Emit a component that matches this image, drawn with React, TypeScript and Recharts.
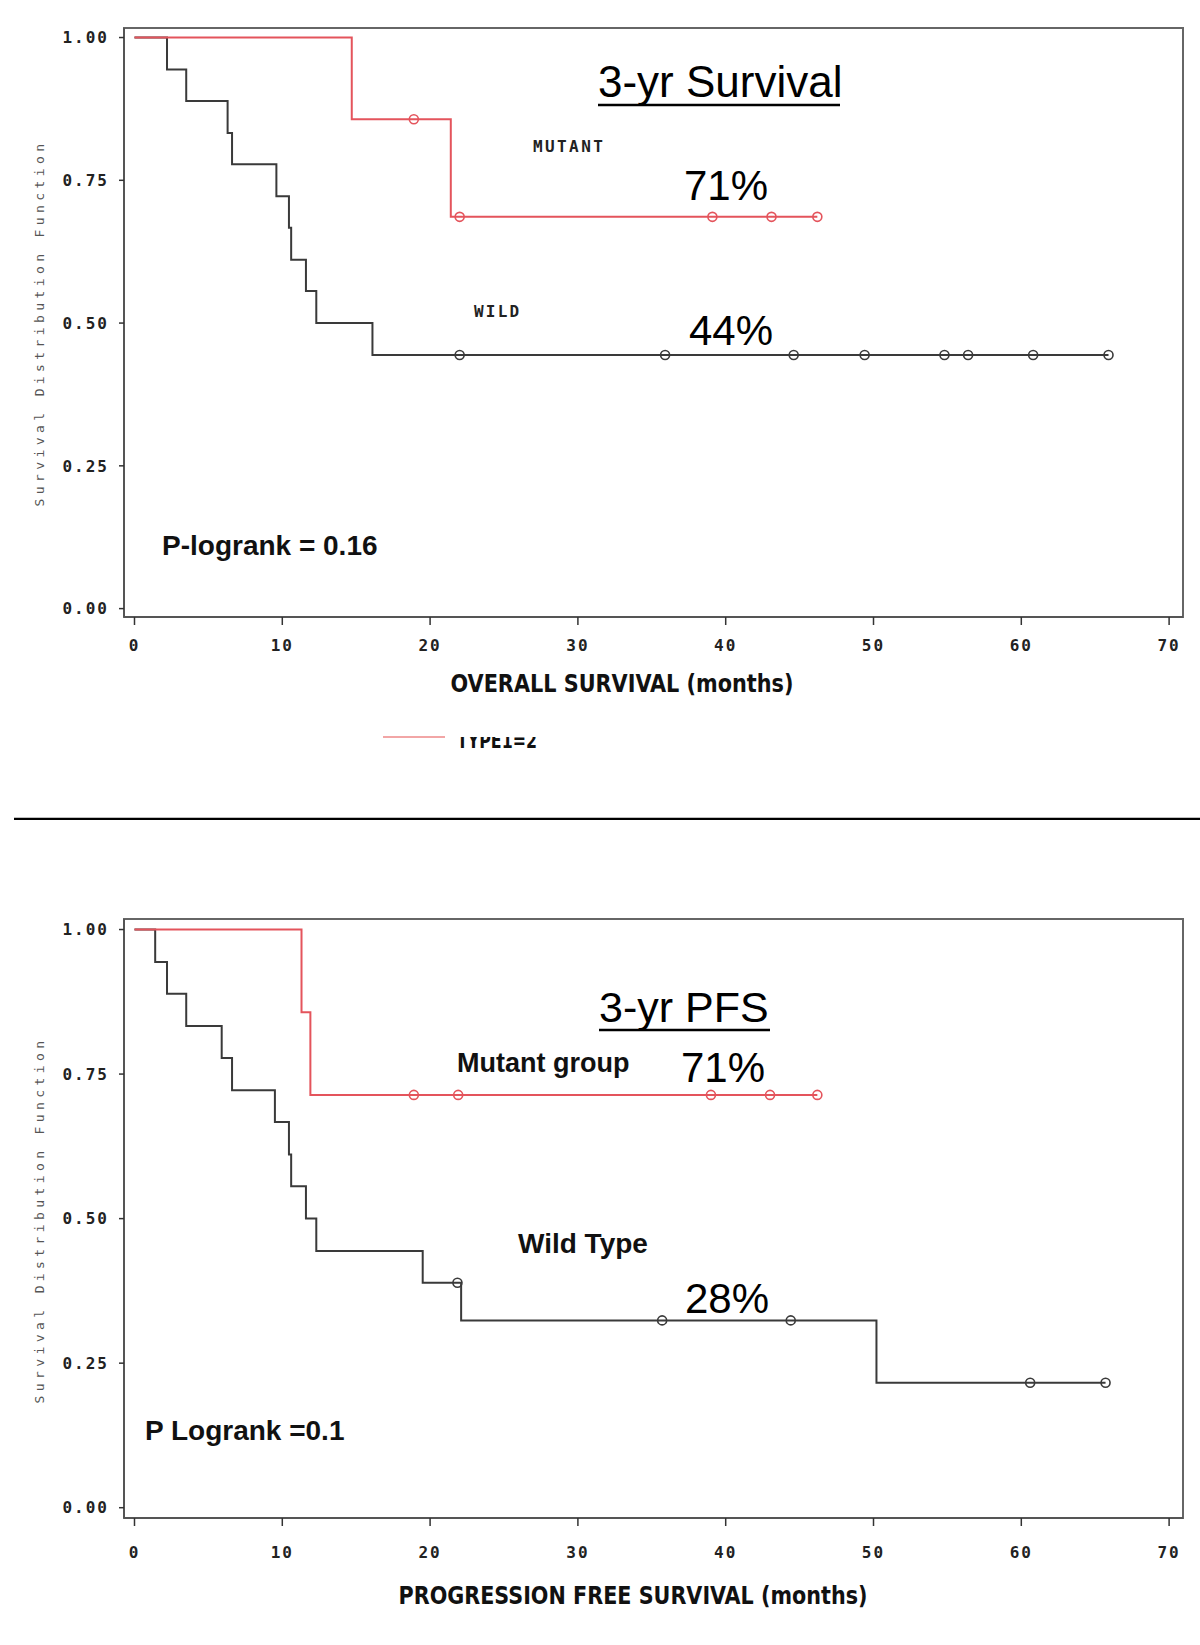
import React from 'react';
import { ComposedChart, Line, Scatter, XAxis, YAxis } from 'recharts';

// overall survival (months) - Kaplan-Meier steps
const osMutantTime = [0, 14.7, 21.4, 46.2];
const osMutantSurv = [1, 0.857, 0.686, 0.686];
const osMutantCensor = [18.9, 22.0, 39.1, 43.1, 46.2];

const osWildTime = [0, 2.2, 3.5, 6.3, 6.6, 9.6, 10.45, 10.6, 11.6, 12.3, 16.1, 65.9];
const osWildSurv = [1, 0.944, 0.889, 0.833, 0.778, 0.722, 0.667, 0.611, 0.556, 0.5, 0.444, 0.444];
const osWildCensor = [22.0, 35.9, 44.6, 49.4, 54.8, 56.4, 60.8, 65.9];

// progression free survival (months)
const pfsMutantTime = [0, 11.3, 11.9, 46.2];
const pfsMutantSurv = [1, 0.857, 0.714, 0.714];
const pfsMutantCensor = [18.9, 21.9, 39.0, 43.0, 46.2];

const pfsWildTime = [0, 1.4, 2.2, 3.5, 5.9, 6.6, 9.5, 10.45, 10.6, 11.6, 12.3, 19.5, 22.1, 50.2, 65.7];
const pfsWildSurv = [1, 0.944, 0.889, 0.833, 0.778, 0.722, 0.667, 0.611, 0.556, 0.5, 0.444, 0.389, 0.324, 0.216, 0.216];
const pfsWildCensor = [21.85, 35.7, 44.4, 60.6, 65.7];

const monthTicks = [0, 10, 20, 30, 40, 50, 60, 70];
const survTicks = [0, 0.25, 0.5, 0.75, 1];

const RED = '#e4545c';
const BLACK = '#3a3a3a';

const steps = (times: number[], surv: number[]) => times.map((t, i) => ({ t, s: surv[i] }));

const survAt = (times: number[], surv: number[], t: number) => {
  let s = surv[0];
  times.forEach((tt, i) => {
    if (tt <= t) s = surv[i];
  });
  return s;
};

const censored = (times: number[], surv: number[], cens: number[]) =>
  cens.map(t => ({ t, s: survAt(times, surv, t) }));

const tickFont = {
  fontFamily: '"DejaVu Sans Mono", monospace',
  fontWeight: 700,
  fontSize: 16,
  fill: '#222',
  letterSpacing: 2,
};

const openCircle = (color: string) => (p: any) => (
  <circle cx={p.cx} cy={p.cy} r={4.5} fill="none" stroke={color} strokeWidth={1.6} />
);

interface KMProps {
  height: number;
  top: number;
  yDomain: [number, number];
  bottomMargin: number;
  tickGap: number;
  mutant: { t: number; s: number }[];
  wild: { t: number; s: number }[];
  mutantCens: { t: number; s: number }[];
  wildCens: { t: number; s: number }[];
  children?: React.ReactNode;
}

const KMPlot: React.FC<KMProps> = ({ height, top, yDomain, bottomMargin, tickGap, mutant, wild, mutantCens, wildCens, children }) => (
  <ComposedChart
    width={1200}
    height={height}
    margin={{ top, right: 17, left: 24, bottom: bottomMargin }}
    style={{ overflow: 'visible' }}
  >
    <XAxis
      type="number"
      dataKey="t"
      domain={[-0.71, 70.94]}
      allowDataOverflow
      ticks={monthTicks}
      height={30}
      tickSize={8}
      tickMargin={tickGap}
      tick={tickFont}
      tickLine={{ stroke: '#333', strokeWidth: 1.5 }}
      axisLine={{ stroke: '#555', strokeWidth: 2 }}
    />
    <YAxis
      type="number"
      domain={yDomain}
      allowDataOverflow
      ticks={survTicks}
      width={100}
      tickSize={5}
      tickMargin={10}
      tick={tickFont}
      tickFormatter={(v: number) => v.toFixed(2)}
      tickLine={{ stroke: '#333', strokeWidth: 1.5 }}
      axisLine={{ stroke: '#555', strokeWidth: 2 }}
    />
    <Line data={wild} dataKey="s" type="stepAfter" stroke={BLACK} strokeWidth={2} dot={false} isAnimationActive={false} />
    <Line data={mutant} dataKey="s" type="stepAfter" stroke={RED} strokeWidth={2} dot={false} isAnimationActive={false} />
    <Scatter data={wildCens} dataKey="s" shape={openCircle(BLACK)} isAnimationActive={false} />
    <Scatter data={mutantCens} dataKey="s" shape={openCircle(RED)} isAnimationActive={false} />
    {children}
  </ComposedChart>
);

const arial = '"Liberation Sans", Arial, sans-serif';
const mono = '"DejaVu Sans Mono", monospace';
const narrow = '"Liberation Sans Narrow", "DejaVu Sans Condensed", Arial, sans-serif';

const YTitle: React.FC<{ cy: number }> = ({ cy }) => (
  <text
    x={40}
    y={cy}
    transform={`rotate(-90 40 ${cy})`}
    textAnchor="middle"
    dominantBaseline="middle"
    fontFamily={mono}
    fontSize={13}
    letterSpacing={4.4}
    fill="#555"
  >
    Survival Distribution Function
  </text>
);

export default function App() {
  return (
    <div style={{ position: 'absolute', left: 0, top: 0, width: 1200, height: 1645, background: '#fff' }}>
      <div style={{ position: 'absolute', left: 0, top: 0 }}>
        <KMPlot
          height={820}
          top={28}
          yDomain={[-0.0147, 1.0167]}
          bottomMargin={173}
          tickGap={15}
          mutant={steps(osMutantTime, osMutantSurv)}
          wild={steps(osWildTime, osWildSurv)}
          mutantCens={censored(osMutantTime, osMutantSurv, osMutantCensor)}
          wildCens={censored(osWildTime, osWildSurv, osWildCensor)}
        >
          <rect x={124} y={28} width={1059} height={589} fill="none" stroke="#666" strokeWidth={2} />
          <text x={598} y={97} fontFamily={arial} fontSize={44} fill="#000">3-yr Survival</text>
          <line x1={598} x2={840} y1={105} y2={105} stroke="#000" strokeWidth={2.5} />
          <text x={533} y={152} fontFamily={mono} fontWeight={700} fontSize={16} letterSpacing={2.4} fill="#222">MUTANT</text>
          <text x={684} y={200} fontFamily={arial} fontSize={42} fill="#000">71%</text>
          <text x={474} y={317} fontFamily={mono} fontWeight={700} fontSize={16} letterSpacing={2.2} fill="#222">WILD</text>
          <text x={689} y={345} fontFamily={arial} fontSize={42} fill="#000">44%</text>
          <text x={162} y={555} fontFamily={arial} fontWeight={700} fontSize={28} fill="#111">P-logrank = 0.16</text>
          <YTitle cy={323} />
          <text x={622} y={692} textAnchor="middle" fontFamily={narrow} fontWeight={700} fontSize={25} textLength={343} lengthAdjust="spacingAndGlyphs" fill="#111">
            OVERALL SURVIVAL (months)
          </text>
          <defs>
            <clipPath id="legendClip">
              <rect x={440} y={737} width={120} height={20} />
            </clipPath>
          </defs>
          <line x1={383} x2={445} y1={737} y2={737} stroke="#e88" strokeWidth={1.5} />
          <text x={457} y={748} clipPath="url(#legendClip)" fontFamily={narrow} fontWeight={700} fontSize={22} textLength={80} lengthAdjust="spacingAndGlyphs" fill="#111">
            TYPE1=2
          </text>
          <line x1={14} x2={1200} y1={819} y2={819} stroke="#000" strokeWidth={2.5} />
        </KMPlot>
      </div>
      <div style={{ position: 'absolute', left: 0, top: 820 }}>
        <KMPlot
          height={825}
          top={99}
          yDomain={[-0.0178, 1.0182]}
          bottomMargin={97}
          tickGap={21}
          mutant={steps(pfsMutantTime, pfsMutantSurv)}
          wild={steps(pfsWildTime, pfsWildSurv)}
          mutantCens={censored(pfsMutantTime, pfsMutantSurv, pfsMutantCensor)}
          wildCens={censored(pfsWildTime, pfsWildSurv, pfsWildCensor)}
        >
          <rect x={124} y={99} width={1059} height={599} fill="none" stroke="#666" strokeWidth={2} />
          <text x={599} y={202} fontFamily={arial} fontSize={43} fill="#000">3-yr PFS</text>
          <line x1={599} x2={770} y1={210} y2={210} stroke="#000" strokeWidth={2.5} />
          <text x={457} y={252} fontFamily={arial} fontWeight={700} fontSize={27} fill="#111">Mutant group</text>
          <text x={681} y={262} fontFamily={arial} fontSize={42} fill="#000">71%</text>
          <text x={518} y={433} fontFamily={arial} fontWeight={700} fontSize={28} fill="#111">Wild Type</text>
          <text x={685} y={493} fontFamily={arial} fontSize={42} fill="#000">28%</text>
          <text x={145} y={620} fontFamily={arial} fontWeight={700} fontSize={28} fill="#111">P Logrank =0.1</text>
          <YTitle cy={400} />
          <text x={633} y={784} textAnchor="middle" fontFamily={narrow} fontWeight={700} fontSize={25} textLength={469} lengthAdjust="spacingAndGlyphs" fill="#111">
            PROGRESSION FREE SURVIVAL (months)
          </text>
        </KMPlot>
      </div>
    </div>
  );
}
